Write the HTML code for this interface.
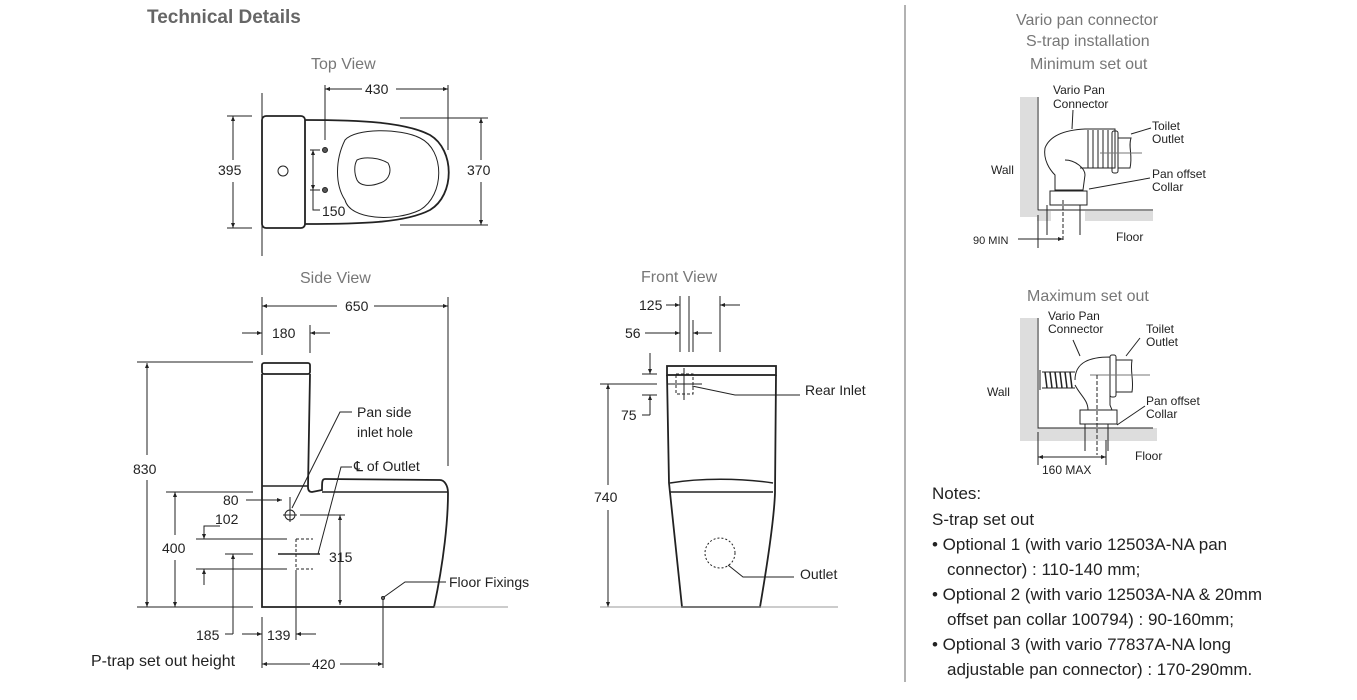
<!DOCTYPE html>
<html><head><meta charset="utf-8"><style>
html,body{margin:0;padding:0;background:#fff;}
svg{display:block;font-family:"Liberation Sans",sans-serif;}
.d{font-size:14px;fill:#222;}
.t{font-size:16px;fill:#777;}
.s{font-size:12px;fill:#222;}
.n{font-size:17px;fill:#222;}
</style></head><body>
<svg width="1357" height="700" viewBox="0 0 1357 700" xmlns="http://www.w3.org/2000/svg">
<defs>
<marker id="a" viewBox="0 0 10 10" refX="10" refY="5" markerWidth="7" markerHeight="5" orient="auto-start-reverse"><path d="M0,1 L10,5 L0,9 z" fill="#222"/></marker>
</defs>
<text x="147" y="23" font-size="19" font-weight="bold" fill="#666">Technical Details</text>
<text x="311" y="69" class="t">Top View</text>
<text x="300" y="283" class="t">Side View</text>
<text x="641" y="282" class="t">Front View</text>
<line x1="905" y1="5" x2="905" y2="682" stroke="#666" stroke-width="1"/>

<g stroke="#222" fill="none" stroke-width="1">
<!-- TOP VIEW -->
<rect x="262" y="116" width="43" height="112" rx="4" stroke-width="1.8"/>
<circle cx="283" cy="171" r="5"/>
<path d="M305,120 C360,120 405,122 430,135 C455,150 455,195 430,210 C405,223 360,224 305,224" stroke-width="1.8"/>
<path d="M345,140 C355,128 400,128 420,138 C445,150 445,195 420,210 C395,222 350,220 345,200 C335,185 335,160 345,140z"/>
<path d="M357,160 C365,156 380,158 388,163 C392,170 390,180 380,183 C370,187 360,186 357,180 C354,173 354,165 357,160z"/>
<circle cx="325" cy="150" r="2.5" fill="#555"/><circle cx="325" cy="190" r="2.5" fill="#555"/>
<line x1="262" y1="93" x2="262" y2="256"/>
<line x1="325" y1="85" x2="325" y2="140"/><line x1="448" y1="85" x2="448" y2="150"/>
<line x1="325" y1="89" x2="362" y2="89" marker-start="url(#a)"/><line x1="396" y1="89" x2="448" y2="89" marker-end="url(#a)"/>
<line x1="227" y1="116" x2="252" y2="116"/><line x1="227" y1="228" x2="252" y2="228"/>
<line x1="233" y1="116" x2="233" y2="160" marker-start="url(#a)"/><line x1="233" y1="182" x2="233" y2="228" marker-end="url(#a)"/>
<line x1="400" y1="118" x2="488" y2="118"/><line x1="400" y1="225" x2="488" y2="225"/>
<line x1="481" y1="118" x2="481" y2="160" marker-start="url(#a)"/><line x1="481" y1="182" x2="481" y2="225" marker-end="url(#a)"/>
<line x1="313" y1="150" x2="313" y2="190" marker-start="url(#a)" marker-end="url(#a)"/>
<path d="M313,190 L313,210 L320,210"/>
<line x1="310" y1="150" x2="320" y2="150"/><line x1="310" y1="190" x2="320" y2="190"/>

<!-- SIDE VIEW -->
<rect x="262" y="363" width="48" height="11" rx="2" stroke-width="1.8"/>
<path d="M262,374 L262,607 L434,607 C444,560 448,520 448,493 C448,485 444,480 440,480 L325,479 C322,479 322,482 322,490 L312,492 C309,492 308,490 308,487 L310,374" stroke-width="1.8"/>
<line x1="262" y1="486" x2="308" y2="486" stroke-width="1.5"/>
<line x1="322" y1="492" x2="448" y2="492" stroke-width="1.5"/>
<line x1="262" y1="297" x2="262" y2="355"/><line x1="448" y1="297" x2="448" y2="466"/>
<line x1="262" y1="306" x2="337" y2="306" marker-start="url(#a)"/><line x1="374" y1="306" x2="448" y2="306" marker-end="url(#a)"/>
<line x1="310" y1="325" x2="310" y2="353"/>
<line x1="242" y1="333" x2="262" y2="333" marker-end="url(#a)"/><line x1="330" y1="333" x2="310" y2="333" marker-end="url(#a)"/>
<line x1="137" y1="362" x2="253" y2="362"/>
<line x1="137" y1="607" x2="253" y2="607"/>
<line x1="147" y1="363" x2="147" y2="455" marker-start="url(#a)"/><line x1="147" y1="480" x2="147" y2="607" marker-end="url(#a)"/>
<line x1="166" y1="492" x2="253" y2="492"/>
<line x1="175" y1="492" x2="175" y2="535" marker-start="url(#a)"/><line x1="175" y1="560" x2="175" y2="607" marker-end="url(#a)"/>
<line x1="246" y1="500" x2="282" y2="500" marker-end="url(#a)"/>
<line x1="290" y1="497" x2="290" y2="508"/>
<circle cx="290" cy="515" r="5"/><line x1="283" y1="515" x2="297" y2="515"/><line x1="290" y1="508" x2="290" y2="522"/>
<path d="M292,508 L340,412 L352,412"/>
<line x1="300" y1="515" x2="345" y2="515"/>
<line x1="340" y1="515" x2="340" y2="605" marker-start="url(#a)" marker-end="url(#a)"/>
<line x1="196" y1="539" x2="287" y2="539"/>
<line x1="196" y1="569" x2="287" y2="569"/>
<path d="M220,526 L204,526 L204,539" marker-end="url(#a)"/>
<line x1="204" y1="569" x2="204" y2="585" marker-start="url(#a)"/>
<line x1="225" y1="554" x2="253" y2="554"/>
<line x1="233" y1="554" x2="233" y2="634" marker-start="url(#a)"/><path d="M233,634 L225,634"/>
<line x1="278" y1="554" x2="320" y2="554" stroke-width="1.5"/>
<path d="M296,539 L313,539 M296,539 L296,569 L313,569" stroke-dasharray="3,2"/>
<path d="M318,554 L341,467 L352,467"/>
<line x1="296" y1="570" x2="296" y2="640"/>
<line x1="262" y1="617" x2="262" y2="668"/>
<line x1="242" y1="634" x2="262" y2="634" marker-end="url(#a)"/><line x1="316" y1="634" x2="296" y2="634" marker-end="url(#a)"/>
<line x1="383" y1="596" x2="383" y2="668"/>
<circle cx="383" cy="598" r="1.5"/>
<path d="M384,597 L405,582 L446,582"/>
<line x1="262" y1="664" x2="310" y2="664" marker-start="url(#a)"/><line x1="340" y1="664" x2="383" y2="664" marker-end="url(#a)"/>
<line x1="434" y1="607" x2="508" y2="607" stroke="#999"/>

<!-- FRONT VIEW -->
<rect x="667" y="366" width="109" height="9" stroke-width="1.8"/>
<path d="M667,375 L669,483 L682,607 L760,607 C768,560 774,520 775,493 L776,375" stroke-width="1.8"/>
<path d="M670,483 C700,478 740,478 773,483 M670,492 L773,492" stroke-width="1.5"/>
<circle cx="720" cy="553" r="15" stroke-dasharray="2,2"/>
<path d="M728,565 L743,577 L794,577"/>
<rect x="676" y="374" width="17" height="20" stroke-dasharray="3,2"/>
<line x1="684" y1="368" x2="684" y2="400"/><line x1="668" y1="384" x2="702" y2="384"/>
<path d="M692,386 L735,395 L800,395"/>
<line x1="680" y1="296" x2="680" y2="352"/><line x1="689" y1="296" x2="689" y2="352"/>
<line x1="693" y1="320" x2="693" y2="352"/><line x1="720" y1="296" x2="720" y2="352"/>
<line x1="666" y1="305" x2="680" y2="305" marker-end="url(#a)"/><line x1="740" y1="305" x2="720" y2="305" marker-end="url(#a)"/>
<line x1="645" y1="333" x2="680" y2="333" marker-end="url(#a)"/><line x1="712" y1="333" x2="693" y2="333" marker-end="url(#a)"/>
<line x1="642" y1="374" x2="657" y2="374"/><line x1="600" y1="384" x2="657" y2="384"/>
<line x1="642" y1="395" x2="657" y2="395"/>
<line x1="650" y1="353" x2="650" y2="374" marker-end="url(#a)"/>
<path d="M650,415 L650,395" marker-end="url(#a)"/><line x1="642" y1="415" x2="650" y2="415"/>
<line x1="608" y1="384" x2="608" y2="485" marker-start="url(#a)"/><line x1="608" y1="510" x2="608" y2="607" marker-end="url(#a)"/>
<line x1="600" y1="607" x2="838" y2="607" stroke="#999"/>

<!-- MIN SET OUT -->
<rect x="1020" y="97" width="17" height="120" fill="#ddd" stroke="none"/>
<rect x="1037" y="211" width="14" height="10" fill="#ddd" stroke="none"/>
<rect x="1085" y="211" width="68" height="10" fill="#ddd" stroke="none"/>
<path d="M1038,97 L1038,210 L1153,210"/>
<path d="M1045,148 C1050,135 1065,130 1085,129 L1115,129 L1115,168 L1080,168 M1045,148 C1043,160 1050,170 1055,175 L1055,190 L1083,190 L1085,175 C1085,168 1075,160 1065,160"/>
<path d="M1088,130 L1088,168 M1093,130 L1093,168 M1098,130 L1098,168 M1103,130 L1103,168 M1108,130 L1108,168"/>
<rect x="1112" y="131" width="6" height="42" rx="2"/>
<path d="M1118,138 L1131,138 C1128,147 1133,155 1130,168 L1118,168"/>
<line x1="1100" y1="153" x2="1142" y2="153" stroke="#777"/>
<rect x="1050" y="191" width="37" height="14"/>
<path d="M1047,205 L1047,235 M1080,205 L1080,235"/>
<line x1="1063" y1="200" x2="1063" y2="240" stroke-dasharray="4,2"/>
<path d="M1072,129 L1073,110"/><path d="M1131,134 L1151,128"/><path d="M1089,189 L1150,178"/>
<line x1="1038" y1="215" x2="1038" y2="248"/>
<line x1="1018" y1="239" x2="1063" y2="239" marker-end="url(#a)"/>

<!-- MAX SET OUT -->
<rect x="1020" y="318" width="17" height="123" fill="#ddd" stroke="none"/>
<rect x="1037" y="428" width="120" height="13" fill="#ddd" stroke="none"/>
<path d="M1038,318 L1038,428 L1153,428"/>
<path d="M1040,370 L1040,390 M1042,372 L1075,372 M1042,388 L1075,388" />
<path d="M1045,372 L1047,388 M1050,372 L1052,388 M1055,372 L1057,388 M1060,372 L1062,388 M1065,372 L1067,388 M1070,372 L1072,388" stroke-width="1.5"/>
<path d="M1075,380 C1075,362 1090,357 1110,357 L1110,405 L1112,410 L1088,410 C1088,400 1080,395 1075,385"/>
<rect x="1110" y="355" width="6" height="42" rx="2"/>
<path d="M1116,360 L1132,360 C1130,372 1134,380 1132,392 L1116,392"/>
<line x1="1090" y1="375" x2="1150" y2="375" stroke="#777"/>
<rect x="1080" y="410" width="37" height="14"/>
<path d="M1085,424 L1085,451 M1108,424 L1108,451"/>
<line x1="1097" y1="375" x2="1097" y2="455" stroke-dasharray="4,2"/>
<path d="M1080,356 L1073,340"/><path d="M1126,356 L1140,338"/><path d="M1117,425 L1145,406"/>
<line x1="1038" y1="432" x2="1038" y2="465"/><line x1="1106" y1="440" x2="1106" y2="465"/>
<line x1="1038" y1="457" x2="1106" y2="457" marker-start="url(#a)" marker-end="url(#a)"/>
</g>

<text x="218" y="175" class="d">395</text>
<text x="365" y="94" class="d">430</text>
<text x="467" y="175" class="d">370</text>
<text x="322" y="216" class="d">150</text>

<text x="345" y="311" class="d">650</text>
<text x="272" y="338" class="d">180</text>
<text x="357" y="417" class="d">Pan side</text>
<text x="357" y="437" class="d">inlet hole</text>
<text x="354" y="471" class="d">℄ of Outlet</text>
<text x="133" y="474" class="d">830</text>
<text x="223" y="505" class="d">80</text>
<text x="215" y="524" class="d">102</text>
<text x="162" y="553" class="d">400</text>
<text x="329" y="562" class="d">315</text>
<text x="449" y="587" class="d">Floor Fixings</text>
<text x="196" y="640" class="d">185</text>
<text x="267" y="640" class="d">139</text>
<text x="91" y="666" font-size="16" fill="#222">P-trap set out height</text>
<text x="312" y="669" class="d">420</text>

<text x="639" y="310" class="d">125</text>
<text x="625" y="338" class="d">56</text>
<text x="805" y="395" class="d">Rear Inlet</text>
<text x="621" y="420" class="d">75</text>
<text x="594" y="502" class="d">740</text>
<text x="800" y="579" class="d">Outlet</text>

<text x="1016" y="25" class="t">Vario pan connector</text>
<text x="1026" y="46" class="t">S-trap installation</text>
<text x="1030" y="69" class="t">Minimum set out</text>
<text x="1053" y="94" class="s">Vario Pan</text>
<text x="1053" y="108" class="s">Connector</text>
<text x="1152" y="130" class="s">Toilet</text>
<text x="1152" y="143" class="s">Outlet</text>
<text x="991" y="174" class="s">Wall</text>
<text x="1152" y="178" class="s">Pan offset</text>
<text x="1152" y="191" class="s">Collar</text>
<text x="973" y="244" font-size="11" fill="#222">90 MIN</text>
<text x="1116" y="241" class="s">Floor</text>
<text x="1027" y="301" class="t">Maximum set out</text>
<text x="1048" y="320" class="s">Vario Pan</text>
<text x="1048" y="333" class="s">Connector</text>
<text x="1146" y="333" class="s">Toilet</text>
<text x="1146" y="346" class="s">Outlet</text>
<text x="987" y="396" class="s">Wall</text>
<text x="1146" y="405" class="s">Pan offset</text>
<text x="1146" y="418" class="s">Collar</text>
<text x="1135" y="460" class="s">Floor</text>
<text x="1042" y="474" class="s">160 MAX</text>

<text x="932" y="499" class="n">Notes:</text>
<text x="932" y="525" class="n">S-trap set out</text>
<text x="932" y="550" class="n">• Optional 1 (with vario 12503A-NA pan</text>
<text x="947" y="575" class="n">connector) : 110-140 mm;</text>
<text x="932" y="600" class="n">• Optional 2 (with vario 12503A-NA &amp; 20mm</text>
<text x="947" y="625" class="n">offset pan collar 100794) : 90-160mm;</text>
<text x="932" y="650" class="n">• Optional 3 (with vario 77837A-NA long</text>
<text x="947" y="675" class="n">adjustable pan connector) : 170-290mm.</text>
</svg>
</body></html>
